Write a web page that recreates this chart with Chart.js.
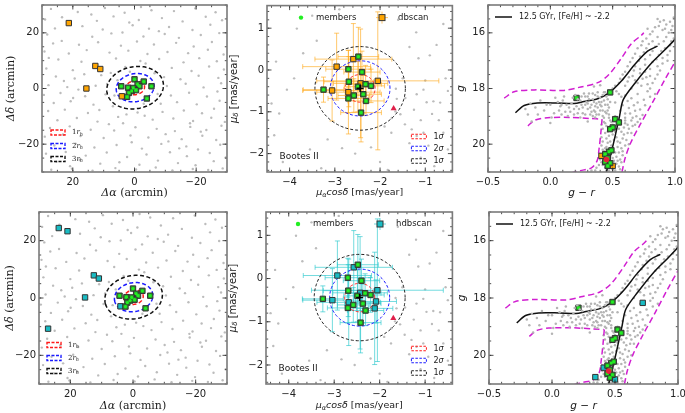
<!DOCTYPE html>
<html>
<head>
<meta charset="utf-8">
<title>Bootes II members</title>
<script src="https://cdn.jsdelivr.net/npm/chart.js@4.4.1/dist/chart.umd.min.js"></script>
<style>
  html, body { margin: 0; padding: 0; background: #fff; }
  body { position: relative; width: 685px; height: 413px; overflow: hidden; }
  canvas { position: absolute; }
</style>
</head>
<body>
<canvas id="skyTop"></canvas>
<canvas id="pmTop"></canvas>
<canvas id="cmdTop"></canvas>
<canvas id="cmdTopHB"></canvas>
<canvas id="skyBottom"></canvas>
<canvas id="pmBottom"></canvas>
<canvas id="cmdBottom"></canvas>
<canvas id="cmdBottomHB"></canvas>
<script>
// ---- sky positions (arcmin) ----
const fieldStars = [
  [27.1,28.6],[18.4,27.5],[9.6,28.9],[3.2,27.2],[-5.5,28.1],[-12.8,27.8],[-19.7,28.8],[-26.3,27.4],[14.0,26.6],[-2.1,29.3],
  [29.0,24.8],[23.5,25.6],[12.2,24.3],[6.8,25.9],[-1.4,24.6],[-8.9,25.3],[-15.6,24.1],[-23.1,25.8],[-28.4,24.5],[1.7,23.7],
  [25.8,21.6],[16.9,22.4],[10.3,21.2],[0.6,22.7],[-4.7,21.5],[-11.2,22.1],[-18.8,21.0],[-24.6,22.9],[-7.9,20.6],[-21.5,19.2],
  [28.3,19.4],[13.7,18.6],[7.5,19.8],[-2.9,18.7],[-9.8,19.6],[-14.4,18.2],[-27.5,19.9],[3.9,20.1],
  [26.4,16.2],[18.0,15.7],[11.8,16.6],[4.4,15.4],[-0.8,16.9],[-6.3,15.8],[-13.5,16.4],[-19.2,15.1],[-25.1,16.7],[23.6,17.1],
  [29.2,13.3],[21.3,12.6],[15.5,13.8],[8.1,12.9],[2.0,13.6],[-4.2,12.4],[-10.7,13.1],[-17.4,12.7],[-23.8,13.9],[-28.9,12.2],
  [24.7,10.4],[17.2,9.6],[6.0,10.8],[-1.9,9.9],[-8.0,10.6],[-15.9,9.4],[-21.0,10.9],[-26.7,9.8],[27.8,11.0],
  [28.6,7.2],[20.0,6.6],[3.0,7.7],[-12.1,7.4],[-18.5,6.3],[-24.2,7.9],[-29.0,6.8],[7.7,5.6],[-3.6,9.0],
  [25.5,4.3],[19.4,3.6],[10.8,4.8],[-9.6,4.1],[-14.9,3.3],[-20.8,4.6],[-27.2,3.8],[22.9,2.7],[16.3,5.1],
  [27.9,1.2],[21.8,0.5],[8.9,1.6],[-10.5,0.9],[-16.6,1.7],[-22.4,0.4],[-28.1,1.9],[18.2,-0.4],[12.6,1.0],
  [29.4,-2.3],[24.0,-1.6],[16.0,-2.8],[9.4,-2.1],[-11.8,-2.5],[-17.7,-1.5],[-23.5,-2.9],[-26.9,-1.1],[19.9,-3.4],
  [26.2,-5.2],[20.7,-4.6],[13.3,-5.8],[7.0,-6.4],[-1.0,-8.6],[-8.5,-5.5],[-13.8,-4.9],[-20.2,-5.7],[-27.6,-4.4],[2.6,-9.3],
  [28.0,-8.1],[22.6,-7.6],[15.1,-8.8],[5.3,-10.2],[-3.3,-9.8],[-9.1,-8.4],[-16.0,-7.9],[-21.9,-8.9],[-25.8,-7.3],[11.4,-7.7],
  [25.0,-11.4],[18.7,-10.6],[12.0,-11.9],[3.7,-12.5],[-5.9,-11.2],[-12.6,-10.8],[-19.0,-11.7],[-24.9,-10.5],[-29.3,-12.0],[8.3,-12.8],
  [27.4,-14.2],[21.0,-13.6],[14.2,-14.8],[6.6,-15.1],[-0.3,-13.9],[-7.2,-14.5],[-13.1,-15.3],[-18.1,-13.8],[-23.3,-14.9],[-28.2,-13.4],
  [29.1,-17.3],[23.2,-16.5],[10.0,-17.8],[1.3,-16.9],[-4.5,-17.6],[-10.1,-16.4],[-15.3,-18.2],[-22.0,-17.0],[-26.5,-18.5],[17.5,-17.1],
  [26.0,-20.5],[19.1,-19.8],[13.0,-21.2],[5.8,-20.3],[-2.4,-21.6],[-8.7,-19.9],[-16.8,-20.8],[-20.6,-21.9],[-27.8,-20.2],[0.9,-19.3],
  [28.7,-23.4],[22.3,-22.8],[15.8,-24.1],[9.0,-23.0],[2.4,-24.6],[-3.9,-23.7],[-11.5,-22.9],[-17.0,-24.3],[-24.4,-23.2],[-29.6,-24.8],
  [25.3,-26.3],[17.8,-25.7],[11.1,-27.0],[4.9,-26.5],[-1.6,-27.4],[-7.6,-25.9],[-14.1,-26.8],[-19.8,-27.6],[-25.7,-26.1],[20.9,-27.9],
  [27.0,-29.2],[20.3,-28.8],[13.6,-29.5],[6.2,-28.6],[-0.5,-29.1],[-6.9,-28.4],[-12.3,-29.4],[-18.9,-28.9],[-23.9,-29.3],[-28.6,-28.7],
  [5.5,3.0],[-6.5,5.5],[1.5,6.0],[-3.0,-5.5],[6.5,-2.5],[-7.5,-2.0],[-18.0,-12.5],[-14.5,-21.5],[-21.5,-15.5],[-11.0,-19.0]
];
const memberRA  = [4.3, 0.0, -3.0, -5.5, 2.1, -1.0, 0.4, -1.6, 0.9, 1.8, 2.4, -4.0, -0.5];
const memberDec = [0.8, 3.3, 2.5, 0.8, 0.3, 1.5, 0.2, 0.8, -0.9, -1.6, -3.0, -3.6, -0.6];
const dbscanRA  = [21.3, 12.7, 11.1, 15.6, 4.1];
const dbscanDec = [23.5, 8.1, 7.0, 0.0, -2.8];
const hdbscanRA  = [23.7, 20.9, 12.5, 10.9, 15.3, 27.1, 4.0];
const hdbscanDec = [24.4, 23.3, 7.9, 6.8, 0.2, -10.7, -2.9];
// half-light radius ellipse: centre, semi-axes (arcmin), tilt (deg)
const rhShape = { x: -0.2, y: 0.3, a: 3.1, b: 2.5, tilt: -15 };

// ---- proper motions (mas/yr) ----
const pmField = [
  [-3.84,0.99],[-4.06,-0.47],[-4.23,-1.04],[-4.34,-1.56],[-3.16,-1.66],[-2.84,-1.87],[-1.83,-2.39],[-1.63,-0.69],
  [-1.55,-1.06],[-1.44,-0.67],[-1.19,-0.58],[-1.04,-0.47],[-0.97,-0.77],[-0.82,-0.75],[-0.67,-0.78],[-1.15,0.28],
  [-0.9,0.35],[-0.75,0.6],[-1.3,-1.42],[-1.19,-1.58],[-1.04,-1.5],[-0.93,-1.81],[-1.74,-1.15],[-1.66,-0.99],
  [-3.5,1.3],[-2.9,1.45],[-1.6,1.2],[-1.2,0.9],[-0.6,1.1],[-0.55,-0.2],[-0.7,-1.2],[-0.6,-1.5],[-1.45,-1.3],
  [-1.35,-1.75],[-1.75,-1.5],[-2.2,-1.85],[-2.55,-2.0],[-3.55,-1.9],[-4.15,-2.2],[-3.9,-0.2],[-3.7,0.4],[-4.3,0.2],
  [-1.5,-0.2],[-1.65,-0.45],[-1.0,-0.25],[-0.85,-1.05],[-0.5,-0.5],[-1.25,-0.95],[-1.1,-1.2],[-2.0,-2.2],[-3.3,-2.35],
  [-1.9,-1.35],[-1.1,-2.1],[-0.8,-2.3],[-0.5,-1.9],[-4.4,-0.8],[-3.4,0.7],[-1.35,0.55]
];
const memberPmRA     = [-2.48,-2.70,-2.40,-2.69,-3.25,-2.49,-2.32,-2.20,-2.58,-2.37,-2.70,-2.31,-2.42];
const memberPmDec    = [0.32,0.02,-0.05,-0.28,-0.47,-0.40,-0.34,-0.38,-0.61,-0.58,-0.68,-0.74,-1.02];
const memberPmRAErr  = [0.45,0.5,0.4,0.55,0.45,0.3,0.35,0.3,0.35,0.4,0.45,0.4,0.45];
const memberPmDecErr = [0.7,0.45,0.5,0.6,0.3,0.6,0.45,0.4,0.4,0.45,0.35,0.35,0.7];
const dbscanPmRA     = [-2.59,-2.96,-2.05,-2.43,-3.06,-2.70];
const dbscanPmDec    = [0.26,0.08,-0.26,-0.32,-0.49,-0.53];
const dbscanPmRAErr  = [0.85,0.75,1.35,0.6,0.65,0.7];
const dbscanPmDecErr = [0.85,0.8,1.65,1.3,0.73,1.0];
const hdbscanPmRA     = [-2.57,-2.93,-2.05,-2.43,-3.04,-2.68,-2.08,-2.11];
const hdbscanPmDec    = [0.26,0.07,-0.27,-0.33,-0.50,-0.55,-0.53,-0.69];
const hdbscanPmRAErr  = [0.85,0.75,1.45,0.6,0.65,0.7,0.45,0.4];
const hdbscanPmDecErr = [0.85,0.8,1.65,1.3,0.73,1.0,0.5,1.3];
const pmMean = [-2.44, -0.44];
const pmSigma = [0.33, 0.66, 1.0];
const outlierPm = [-1.70, -0.92];

// ---- colour-magnitude diagram: field stars by region ----
const cmdFieldHB = [
  [-0.2,18.75],[-0.18,18.95],[-0.16,18.55],[-0.12,18.7],[-0.1,18.95],[-0.08,18.45],[-0.05,18.8],[-0.03,18.6],[0.0,18.6],[0.01,19.05],
  [0.03,18.9],[0.04,18.35],[0.06,18.5],[0.07,18.8],[0.08,18.65],[0.09,18.95],[0.09,18.6],[0.1,18.45],[0.11,18.3],[0.12,18.85],
  [0.13,18.6],[0.14,19.0],[0.15,18.7],[0.16,18.85],[0.17,18.55],[0.18,18.35],[0.19,18.95],[0.19,18.75],[0.2,18.25],[0.21,18.65],
  [0.22,18.4],[0.22,18.9],[0.23,18.75],[0.24,18.45],[0.24,19.05],[0.25,18.6],[0.25,18.3],[0.26,18.9],[0.26,18.7],[0.27,18.2],
  [0.28,18.3],[0.28,18.95],[0.28,18.6],[0.29,18.5],[0.3,18.75],[0.3,18.55],[0.3,18.3],[0.31,18.2],[0.31,18.4],[0.32,18.95],
  [0.32,18.7],[0.33,18.6],[0.33,18.85],[0.34,18.4],[0.34,18.2],[0.34,19.0],[0.35,18.8],[0.35,18.5],[0.36,18.25],[0.36,19.05],
  [0.36,18.65],[0.36,18.85],[0.37,18.55],[0.37,18.95],[0.38,18.7],[0.38,18.3],[0.38,18.15],[0.39,18.95],[0.39,18.5],[0.4,18.35],
  [0.4,18.8],[0.4,18.6],[0.41,18.5],[0.41,18.65],[0.42,18.8],[0.42,18.25],[0.42,19.0],[0.43,18.15],[0.43,18.45],[0.44,18.6],
  [0.44,18.85],[0.44,18.15],[0.45,18.9],[0.45,18.3],[0.46,18.4],[0.46,18.6],[0.46,18.8],[0.47,18.7],[0.47,18.95],[0.48,18.5],
  [-0.15,19.2],[0.0,19.25],[0.3,19.2],[0.35,17.95],[0.4,17.9]
];
const cmdFieldRGB = [
  [0.33,20.95],[0.36,20.95],[0.37,20.85],[0.39,20.75],[0.4,20.45],[0.4,20.35],[0.4,20.55],[0.41,20.65],[0.41,19.3],[0.41,19.75],
  [0.41,20.05],[0.42,19.9],[0.42,20.2],[0.42,19.45],[0.42,20.75],[0.43,19.2],[0.43,20.5],[0.43,20.25],[0.43,19.05],[0.44,19.6],
  [0.44,20.85],[0.44,19.25],[0.44,20.15],[0.45,19.35],[0.45,20.1],[0.45,19.8],[0.45,20.4],[0.45,20.95],[0.46,19.95],[0.46,20.35],
  [0.46,19.55],[0.46,20.7],[0.47,19.7],[0.47,20.95],[0.47,19.45],[0.47,20.2],[0.47,19.05],[0.48,19.15],[0.48,20.45],[0.48,19.9],
  [0.49,20.05],[0.49,19.2],[0.49,20.8],[0.5,19.3],[0.5,20.9],[0.5,20.15],[0.5,20.5],[0.5,19.65],[0.51,19.85],[0.51,20.6],
  [0.52,19.55],[0.52,20.3],[0.52,20.95],[0.52,19.0],[0.53,20.7],[0.53,19.35],[0.53,19.75],[0.53,20.45],[0.54,19.9],[0.54,20.6],
  [0.54,20.1],[0.55,19.45],[0.55,20.8],[0.55,20.3],[0.56,20.55],[0.56,19.95],[0.56,20.9],[0.56,19.15],[0.57,20.15],[0.57,19.55],
  [0.57,20.65],[0.58,19.8],[0.58,20.4],[0.58,20.25],[0.59,19.65],[0.59,19.4],[0.6,19.25],[0.6,20.05],[0.6,19.15],[0.61,19.85],
  [0.62,19.6],[0.62,19.3],[0.63,19.45],[0.63,20.0],[0.65,19.6],[0.65,19.15],[0.66,19.35],[0.68,19.3],[0.7,19.2],[0.72,19.1]
];
const cmdFieldUpper = [
  [0.48,18.1],[0.5,18.0],[0.52,17.9],[0.52,18.5],[0.53,18.1],[0.55,17.8],[0.55,18.2],[0.56,17.65],
  [0.56,18.8],[0.57,18.3],[0.58,17.5],[0.58,18.6],[0.6,17.9],[0.6,17.4],[0.6,18.25],[0.6,18.9],[0.6,19.05],[0.62,17.2],
  [0.62,17.75],[0.62,18.45],[0.63,17.6],[0.63,18.7],[0.64,17.05],[0.64,18.9],[0.65,18.0],[0.65,18.35],[0.66,16.9],[0.66,17.55],
  [0.66,19.05],[0.67,17.35],[0.67,18.6],[0.68,17.7],[0.68,17.2],[0.68,16.75],[0.68,18.8],[0.69,19.0],[0.7,18.2],[0.7,16.55],
  [0.7,17.8],[0.7,18.5],[0.71,17.0],[0.72,17.45],[0.72,17.3],[0.72,16.85],[0.72,18.75],[0.73,17.9],[0.73,16.45],[0.74,16.3],
  [0.74,17.65],[0.74,18.95],[0.75,18.4],[0.75,16.7],[0.76,17.15],[0.76,17.4],[0.76,16.95],[0.76,18.6],[0.77,17.6],[0.77,16.55],
  [0.77,16.2],[0.78,18.1],[0.78,15.85],[0.78,17.85],[0.79,16.4],[0.8,17.3],[0.8,16.8],[0.8,16.05],[0.8,18.0],[0.8,17.55],
  [0.8,18.3],[0.82,17.8],[0.82,17.05],[0.82,16.65],[0.82,16.3],[0.82,15.95],[0.84,16.5],[0.84,15.8],[0.84,18.2],[0.84,17.65],
  [0.85,16.95],[0.86,17.5],[0.86,16.15],[0.86,17.2],[0.86,15.5],[0.87,16.8],[0.87,16.4],[0.87,15.75],[0.88,15.6],[0.88,17.35],
  [0.89,16.65],[0.9,17.1],[0.9,15.9],[0.9,16.9],[0.91,16.3],[0.91,15.55],[0.92,16.55],[0.92,15.85],[0.93,15.7],[0.93,16.15],
  [0.94,16.8],[0.94,17.0],[0.95,16.0],[0.96,16.45],[0.96,16.65],[0.96,15.6],[0.97,16.3],[0.97,15.9],[0.98,15.75],[0.99,16.2],
  [0.99,15.45]
];
const memberColor = [0.21,0.48,0.52,0.55,0.50,0.48,0.47,0.49,0.44,0.46,0.44,0.48,0.46];
const memberMag   = [18.34,18.14,19.10,19.22,19.40,19.46,20.27,20.22,20.36,20.50,20.64,20.68,20.78];
const dbscanColor = [0.41, 0.50];
const dbscanMag   = [20.42, 20.78];
const hdbscanColor = [0.72, 0.41, 0.344, 0.50];
const hdbscanMag   = [18.17, 20.43, 20.76, 20.84];
const outlierCmd = [0.45, 20.55];
const isoBranchHB = [[-0.28,18.87],[-0.21,18.61],[-0.105,18.52],[0.056,18.52],[0.19,18.54],[0.27,18.47],[0.38,18.37],
  [0.47,18.16],[0.57,17.73],[0.675,17.15],[0.78,16.66],[0.86,16.48]];
const isoBranchRGB = [[0.45,21.0],[0.505,20.0],[0.555,19.0],[0.585,18.4],[0.68,17.8],[0.81,17.09],[0.917,16.62],[1.01,16.19]];
const envUpper = [[-0.37,18.35],[-0.29,18.12],[-0.13,18.05],[0.11,18.07],[0.23,17.96],[0.38,17.79],[0.47,17.5],
  [0.57,16.91],[0.65,16.39],[0.73,16.09],[0.75,16.0]];
const envHBLower = [[-0.18,19.34],[-0.12,19.13],[-0.025,19.05],[0.16,19.04],[0.33,19.08],[0.41,19.1]];
const envRGBLeft = [[0.415,19.1],[0.405,19.6],[0.39,20.2],[0.375,20.6],[0.33,20.85],[0.24,20.95],[0.18,21.02]];
const envRight = [[0.575,21.0],[0.6,20.5],[0.645,19.95],[0.72,19.3],[0.82,18.5],[0.92,17.67],[1.01,16.97]];

// ---- axes ----
const skyTicks = [-20, 0, 20];
const pmXTicks = [-4, -3, -2, -1];
const pmYTicks = [-2, -1, 0, 1];
const cmdXTicks = [-0.5, 0.0, 0.5, 1.0];
const cmdYTicks = [16, 18, 20];

const SANS = "'DejaVu Sans', sans-serif";
const SERIF = "'DejaVu Serif', serif";
const GREEN_SQ = '#2a9a2a';
const GREEN_DOT = '#22ee22';
const ORANGE = '#ffa500';
const CYAN = '#19bcc4';

const pts = (xs, ys) => xs.map((x, i) => ({ x, y: ys[i] }));
const pairs = (arr) => arr.map(p => ({ x: p[0], y: p[1] }));
const fmt = (v, dec) => (v < 0 ? '\u2212' : '') + Math.abs(v).toFixed(dec);

function bgDots(data, r, color) {
  return { data, pointRadius: r, pointBackgroundColor: color, pointBorderWidth: 0, order: 10, isBackground: true };
}
function squares(data, fill, order) {
  return { data, pointStyle: 'rect', pointRadius: 3.8, pointBackgroundColor: fill,
           pointBorderColor: '#333', pointBorderWidth: 1, order };
}
function memberMarks(xs, ys) {
  return [squares(pts(xs, ys), GREEN_SQ, 2),
          { data: pts(xs, ys), pointRadius: 1.6, pointBackgroundColor: GREEN_DOT, pointBorderWidth: 0, order: 1 }];
}
function curve(data, color, dash, width) {
  return { data, showLine: true, pointRadius: 0, borderColor: color, borderWidth: width,
           borderDash: dash, tension: 0.3, fill: false, order: 6 };
}

// text made of pieces [text, font, dy]
function richText(ctx, parts, x, y, align, rotate) {
  ctx.save();
  ctx.translate(x, y);
  if (rotate) ctx.rotate(-Math.PI / 2);
  let w = 0;
  parts.forEach(p => { ctx.font = p[1]; w += ctx.measureText(p[0]).width; });
  let cx = align === 'center' ? -w / 2 : 0;
  ctx.textBaseline = 'middle';
  ctx.textAlign = 'left';
  ctx.fillStyle = '#1a1a1a';
  parts.forEach(p => { ctx.font = p[1]; ctx.fillText(p[0], cx, p[2] || 0); cx += ctx.measureText(p[0]).width; });
  ctx.restore();
}

function drawFrame(chart, ax) {
  const { ctx, chartArea: a, scales } = chart;
  ctx.save();
  ctx.strokeStyle = '#222';
  ctx.lineWidth = 0.8;
  const mark = (scale, v, len) => {
    const p = scale.getPixelForValue(v);
    ctx.beginPath();
    if (scale.isHorizontal()) {
      ctx.moveTo(p, a.bottom); ctx.lineTo(p, a.bottom - len);
      ctx.moveTo(p, a.top); ctx.lineTo(p, a.top + len);
    } else {
      ctx.moveTo(a.left, p); ctx.lineTo(a.left + len, p);
      ctx.moveTo(a.right, p); ctx.lineTo(a.right - len, p);
    }
    ctx.stroke();
  };
  ['x', 'y'].forEach(k => {
    const s = scales[k], lo = Math.min(s.min, s.max), hi = Math.max(s.min, s.max), step = ax[k].minor;
    for (let v = Math.ceil(lo / step - 1e-6) * step; v <= hi + 1e-9; v += step) mark(s, v, 2.2);
    ax[k].major.forEach(v => mark(s, v, 4.5));
  });
  ctx.strokeStyle = '#7a7a7a';
  ctx.lineWidth = 1.6;
  ctx.strokeRect(a.left, a.top, a.right - a.left, a.bottom - a.top);
  ctx.restore();
}

function axisOpts(dir, a, size, tickColor) {
  return {
    type: 'linear', min: a.min, max: a.max, reverse: !!a.reverse,
    position: dir === 'x' ? 'bottom' : 'left',
    grid: { display: false, drawTicks: false },
    border: { display: false },
    ticks: { font: { family: "'DejaVu Sans'", size: 10 }, color: tickColor, padding: dir === 'x' ? 4 : 3,
             maxRotation: 0, autoSkip: false, callback: (v) => fmt(v, a.dec) },
    afterBuildTicks(s) { s.ticks = a.major.map(v => ({ value: v })); },
    afterFit(s) {
      if (dir === 'x') { s.height = size; s.paddingLeft = 0; s.paddingRight = 0; }
      else { s.width = size; s.paddingTop = 0; s.paddingBottom = 0; }
    }
  };
}

function makePanel(id, box, cfg) {
  const canvas = document.getElementById(id);
  canvas.width = box.w; canvas.height = box.h;
  canvas.style.left = box.x + 'px'; canvas.style.top = box.y + 'px';
  const deco = {
    id: 'deco',
    afterDatasetDraw(chart, args) {
      if (chart.data.datasets[args.index].isBackground && cfg.underlay) {
        const { ctx, chartArea: a } = chart;
        ctx.save();
        ctx.beginPath(); ctx.rect(a.left, a.top, a.right - a.left, a.bottom - a.top); ctx.clip();
        cfg.underlay(chart);
        ctx.restore();
      }
    },
    afterDraw(chart) {
      if (cfg.bare) return;
      drawFrame(chart, cfg);
      cfg.overlay(chart);
    }
  };
  const tickColor = cfg.bare ? 'rgba(0,0,0,0)' : '#222';
  return new Chart(canvas, {
    type: 'scatter',
    data: { datasets: cfg.datasets },
    options: {
      responsive: false, animation: false, devicePixelRatio: 1,
      events: [],
      layout: { padding: { top: box.pt, right: box.pr, left: 0, bottom: 0 } },
      plugins: { legend: { display: false }, tooltip: { enabled: false } },
      scales: { x: axisOpts('x', cfg.x, box.xh, tickColor), y: axisOpts('y', cfg.y, box.yw, tickColor) }
    },
    plugins: [deco]
  });
}

// ---- drawing helpers that go through the scales ----
function ellipse(chart, cx, cy, a, b, tiltDeg, color, dash, width) {
  const { ctx, scales: { x, y } } = chart;
  const t0 = tiltDeg * Math.PI / 180;
  ctx.save();
  ctx.strokeStyle = color; ctx.lineWidth = width; ctx.setLineDash(dash);
  ctx.beginPath();
  for (let i = 0; i <= 120; i++) {
    const t = i / 120 * 2 * Math.PI;
    const u = a * Math.cos(t), v = b * Math.sin(t);
    const px = x.getPixelForValue(cx + u * Math.cos(t0) - v * Math.sin(t0));
    const py = y.getPixelForValue(cy + u * Math.sin(t0) + v * Math.cos(t0));
    if (i === 0) ctx.moveTo(px, py); else ctx.lineTo(px, py);
  }
  ctx.stroke();
  ctx.restore();
}
function errorBars(chart, xs, ys, ex, ey, color) {
  const { ctx, scales: { x, y } } = chart;
  ctx.save();
  ctx.strokeStyle = color; ctx.lineWidth = 1;
  xs.forEach((v, i) => {
    const px = x.getPixelForValue(v), py = y.getPixelForValue(ys[i]);
    const x0 = x.getPixelForValue(v - ex[i]), x1 = x.getPixelForValue(v + ex[i]);
    const y0 = y.getPixelForValue(ys[i] - ey[i]), y1 = y.getPixelForValue(ys[i] + ey[i]);
    ctx.beginPath();
    ctx.moveTo(x0, py); ctx.lineTo(x1, py);
    ctx.moveTo(x0, py - 2.5); ctx.lineTo(x0, py + 2.5);
    ctx.moveTo(x1, py - 2.5); ctx.lineTo(x1, py + 2.5);
    ctx.moveTo(px, y0); ctx.lineTo(px, y1);
    ctx.moveTo(px - 2.5, y0); ctx.lineTo(px + 2.5, y0);
    ctx.moveTo(px - 2.5, y1); ctx.lineTo(px + 2.5, y1);
    ctx.stroke();
  });
  ctx.restore();
}
function legendSquare(ctx, x, y, fill, bars) {
  ctx.save();
  if (bars) {
    ctx.strokeStyle = bars; ctx.lineWidth = 1;
    ctx.beginPath(); ctx.moveTo(x - 6, y); ctx.lineTo(x + 6, y); ctx.moveTo(x, y - 6); ctx.lineTo(x, y + 6); ctx.stroke();
  }
  ctx.fillStyle = fill; ctx.strokeStyle = '#333'; ctx.lineWidth = 1;
  ctx.fillRect(x - 3, y - 3, 6, 6); ctx.strokeRect(x - 3, y - 3, 6, 6);
  ctx.restore();
}
function dashedBox(ctx, x, y, w, h, color, dash, lw) {
  ctx.save();
  ctx.strokeStyle = color; ctx.setLineDash(dash); ctx.lineWidth = lw;
  ctx.strokeRect(x, y - h / 2, w, h);
  ctx.restore();
}

// ---- panel builders ----
const skyAxes = {
  x: { min: -30, max: 30, reverse: true, major: skyTicks, minor: 5, dec: 0 },
  y: { min: -30, max: 30, major: skyTicks, minor: 5, dec: 0 }
};
function skyPanel(id, box, others, otherColor, lg) {
  return makePanel(id, box, Object.assign({}, skyAxes, {
    datasets: [bgDots(pairs(fieldStars), 1.2, '#bcbcbc'), squares(pts(others[0], others[1]), otherColor, 3),
               ...memberMarks(memberRA, memberDec)],
    underlay(chart) {
      const c = ['#ff1a1a', '#1a1aff', '#111'];
      [1, 2, 3].forEach((k, i) => ellipse(chart, rhShape.x, rhShape.y, k * rhShape.a, k * rhShape.b, rhShape.tilt, c[i], [4, 2.5], 1.5));
    },
    overlay(chart) {
      const { ctx, chartArea: a } = chart;
      const c = ['#ff1a1a', '#1a1aff', '#111'];
      ['1', '2', '3'].forEach((n, i) => {
        const yy = a.bottom + lg.ys[i];
        dashedBox(ctx, a.left + lg.bx, yy, 14, 5, c[i], [3, 1.5], 1.4);
        richText(ctx, [[n, '7px ' + SERIF], ['r', 'italic 7px ' + SERIF], ['h', 'italic 5px ' + SERIF, 2]], a.left + lg.tx, yy, 'left');
      });
      richText(ctx, [['\u0394\u03b1', 'italic 11px ' + SERIF], [' (arcmin)', '11px ' + SERIF]], (a.left + a.right) / 2, a.bottom + lg.xt, 'center');
      richText(ctx, [['\u0394\u03b4', 'italic 11px ' + SERIF], [' (arcmin)', '11px ' + SERIF]], a.left - lg.yt, (a.top + a.bottom) / 2, 'center', true);
    }
  }));
}

const pmAxes = {
  x: { min: -4.5, max: -0.4, major: pmXTicks, minor: 0.2, dec: 0 },
  y: { min: -2.44, max: 1.54, major: pmYTicks, minor: 0.2, dec: 0 }
};
function pmPanel(id, box, other, color, barColor, name, lg) {
  return makePanel(id, box, Object.assign({}, pmAxes, {
    datasets: [bgDots(pairs(pmField), 1.2, '#bcbcbc'),
               squares(pts(other.x, other.y), color, 3),
               ...memberMarks(memberPmRA, memberPmDec),
               { data: [{ x: outlierPm[0], y: outlierPm[1] }], pointStyle: 'triangle', pointRadius: 3.5,
                 pointBackgroundColor: '#e0204a', pointBorderWidth: 0, order: 0 },
               { data: [{ x: pmMean[0], y: pmMean[1] }], pointStyle: 'cross', pointRadius: 3.5,
                 borderColor: '#000', pointBorderColor: '#000', pointBorderWidth: 1.6, order: 0 }],
    underlay(chart) {
      errorBars(chart, other.x, other.y, other.ex, other.ey, barColor);
      errorBars(chart, memberPmRA, memberPmDec, memberPmRAErr, memberPmDecErr, barColor);
      const c = ['#ff1a1a', '#1a1aff', '#222'];
      pmSigma.forEach((r, i) => ellipse(chart, pmMean[0], pmMean[1], r, r, 0, c[i], [3, 2], 1));
    },
    overlay(chart) {
      const { ctx, chartArea: a } = chart;
      // top legend
      ctx.save(); ctx.fillStyle = GREEN_DOT;
      ctx.beginPath(); ctx.arc(a.left + lg.mx, a.top + 12, 2.2, 0, 2 * Math.PI); ctx.fill(); ctx.restore();
      richText(ctx, [['members', '8.5px ' + SANS]], a.left + lg.mx + 15, a.top + 12, 'left');
      legendSquare(ctx, a.left + lg.sx, a.top + 12, color, barColor);
      richText(ctx, [[name, '8.5px ' + SANS]], a.left + lg.sx + 16, a.top + 12, 'left');
      // sigma legend
      const c = ['#ff1a1a', '#1a1aff', '#222'];
      ['1', '2', '1'].forEach((n, i) => {
        const yy = a.bottom + lg.ys[i];
        dashedBox(ctx, a.right - 41, yy, 15, 4.5, c[i], [2.5, 1.5], 1);
        richText(ctx, [[n, '8px ' + SANS], ['\u03c3', 'italic 8px ' + SANS]], a.right - 19, yy, 'left');
      });
      richText(ctx, [['Bootes II', '9px ' + SANS]], a.left + 12.5, a.bottom - 15, 'left');
      richText(ctx, [['\u03bc', 'italic 9.5px ' + SANS], ['\u03b1', 'italic 6.5px ' + SANS, 2.5],
                     ['cos\u03b4', 'italic 9.5px ' + SANS], [' [mas/year]', '9.5px ' + SANS]],
               (a.left + a.right) / 2, a.bottom + lg.xt, 'center');
      richText(ctx, [['\u03bc', 'italic 10px ' + SANS], ['\u03b4', 'italic 7px ' + SANS, 2.5], [' [mas/year]', '10px ' + SANS]],
               a.left - lg.yt, (a.top + a.bottom) / 2, 'center', true);
    }
  }));
}

const cmdAxes = {
  x: { min: -0.5, max: 1.0, major: cmdXTicks, minor: 0.1, dec: 1 },
  y: { min: 15.0, max: 21.0, reverse: true, major: cmdYTicks, minor: 0.5, dec: 0 }
};
function cmdPanel(id, box, others, color, lg) {
  makePanel(id, box, Object.assign({}, cmdAxes, {
    datasets: [bgDots(pairs(cmdFieldRGB), 1.25, '#b4b4b4'),
               bgDots(pairs(cmdFieldUpper), 1.25, '#b4b4b4'),
               curve(pairs(envUpper), '#d11fd1', [6, 3.5], 1.5),
               curve(pairs(envHBLower), '#d11fd1', [6, 3.5], 1.5),
               curve(pairs(envRGBLeft), '#d11fd1', [6, 3.5], 1.5),
               curve(pairs(envRight), '#d11fd1', [6, 3.5], 1.5),
               curve(pairs(isoBranchHB), '#111', [], 1.5),
               curve(pairs(isoBranchRGB), '#111', [], 1.5),
               squares(pts(others[0], others[1]), color, 3),
               ...memberMarks(memberColor, memberMag),
               { data: [{ x: outlierCmd[0], y: outlierCmd[1] }], pointRadius: 2.8,
                 pointBackgroundColor: '#e8203c', pointBorderWidth: 0, order: 0 }],
    overlay(chart) {
      const { ctx, chartArea: a } = chart;
      ctx.save(); ctx.strokeStyle = '#111'; ctx.lineWidth = 1.5;
      ctx.beginPath(); ctx.moveTo(a.left + 7, a.top + 12); ctx.lineTo(a.left + 24, a.top + 12); ctx.stroke(); ctx.restore();
      richText(ctx, [['12.5 GYr, [Fe/H] ~ -2.2', '8px ' + SANS]], a.left + 31, a.top + 12, 'left');
      richText(ctx, [['g', 'italic 10.5px ' + SANS], [' \u2212 ', '10.5px ' + SANS], ['r', 'italic 10.5px ' + SANS]],
               (a.left + a.right) / 2, a.bottom + lg.xt, 'center');
      richText(ctx, [['g', 'italic 10.5px ' + SANS]], a.left - lg.yt, (a.top + a.bottom) / 2, 'center', true);
    }
  }));
  // horizontal-branch field stars on a transparent layer over the panel, same axes and box
  makePanel(id + 'HB', box, Object.assign({}, cmdAxes, {
    bare: true,
    datasets: [bgDots(pairs(cmdFieldHB), 1.25, '#b4b4b4')]
  }));
}

skyPanel('skyTop', { x: 0, y: 0, w: 232, h: 206, pt: 1, pr: 3, yw: 42, xh: 34 },
         [dbscanRA, dbscanDec], ORANGE, { bx: 9, tx: 30, ys: [-39.5, -26, -13], xt: 21, yt: 31 });
skyPanel('skyBottom', { x: 0, y: 206, w: 232, h: 207, pt: 6, pr: 3, yw: 39, xh: 29 },
         [hdbscanRA, hdbscanDec], CYAN, { bx: 8, tx: 29, ys: [-39, -26, -13], xt: 22, yt: 29 });

pmPanel('pmTop', { x: 222, y: 0, w: 236, h: 206, pt: 1, pr: 3, yw: 45, xh: 34 },
        { x: dbscanPmRA, y: dbscanPmDec, ex: dbscanPmRAErr, ey: dbscanPmDecErr }, ORANGE, 'rgba(255,170,30,0.65)', 'dbscan',
        { mx: 34, sx: 115, ys: [-35.5, -23.5, -11], xt: 21, yt: 33 });
pmPanel('pmBottom', { x: 222, y: 206, w: 236, h: 207, pt: 6, pr: 3, yw: 44, xh: 29 },
        { x: hdbscanPmRA, y: hdbscanPmDec, ex: hdbscanPmRAErr, ey: hdbscanPmDecErr }, CYAN, 'rgba(40,200,205,0.65)', 'hdbscan',
        { mx: 32, sx: 114, ys: [-35.5, -23.5, -11], xt: 22, yt: 33 });

cmdPanel('cmdTop', { x: 448, y: 0, w: 237, h: 206, pt: 1, pr: 10, yw: 40, xh: 34 },
         [dbscanColor, dbscanMag], ORANGE, { xt: 21, yt: 27 });
cmdPanel('cmdBottom', { x: 448, y: 206, w: 237, h: 207, pt: 6, pr: 7, yw: 41, xh: 29 },
         [hdbscanColor, hdbscanMag], CYAN, { xt: 22, yt: 27 });
</script>
</body>
</html>
